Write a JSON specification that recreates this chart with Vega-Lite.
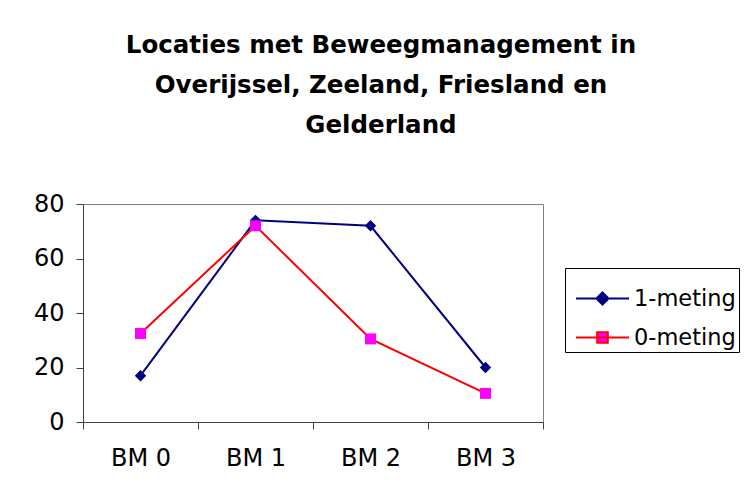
{
  "$schema": "https://vega.github.io/schema/vega-lite/v6.json",
  "width": 460,
  "height": 218,
  "autosize": "none",
  "padding": {"left": 83, "top": 204, "right": 201, "bottom": 77},
  "background": "white",
  "title": {
    "text": ["Locaties met Beweegmanagement in", "Overijssel, Zeeland, Friesland en", "Gelderland"],
    "font": "DejaVu Sans",
    "fontSize": 24.5,
    "fontWeight": "bold",
    "lineHeight": 40,
    "color": "black",
    "anchor": "middle",
    "dx": 68,
    "offset": 54
  },
  "config": {
    "view": {"stroke": "#808080", "strokeWidth": 1},
    "axis": {
      "labelFont": "DejaVu Sans",
      "labelFontSize": 24,
      "labelColor": "black",
      "domainColor": "#404040",
      "tickColor": "#404040",
      "grid": false,
      "title": null
    }
  },
  "data": {
    "values": [
      {"series": "1-meting", "bm": "BM 0", "value": 17},
      {"series": "1-meting", "bm": "BM 1", "value": 74},
      {"series": "1-meting", "bm": "BM 2", "value": 72},
      {"series": "1-meting", "bm": "BM 3", "value": 20},
      {"series": "0-meting", "bm": "BM 0", "value": 32.5},
      {"series": "0-meting", "bm": "BM 1", "value": 72},
      {"series": "0-meting", "bm": "BM 2", "value": 30.5},
      {"series": "0-meting", "bm": "BM 3", "value": 10.5}
    ]
  },
  "encoding": {
    "x": {
      "field": "bm",
      "type": "ordinal",
      "scale": {"type": "band", "paddingInner": 0, "paddingOuter": 0},
      "axis": {"labelAngle": 0, "tickBand": "extent", "tickSize": 7, "labelPadding": 17}
    },
    "y": {
      "field": "value",
      "type": "quantitative",
      "scale": {"domain": [0, 80]},
      "axis": {"values": [0, 20, 40, 60, 80], "tickSize": 7, "labelPadding": 12}
    }
  },
  "layer": [
    {
      "mark": {"type": "line", "strokeWidth": 2},
      "encoding": {
        "color": {
          "field": "series",
          "type": "nominal",
          "scale": {"domain": ["1-meting", "0-meting"], "range": ["#000080", "#FF0000"]},
          "legend": {
            "title": null,
            "orient": "none",
            "legendX": 482,
            "legendY": 64,
            "strokeColor": "black",
            "fillColor": "white",
            "padding": 3,
            "labelFont": "DejaVu Sans",
            "labelFontSize": 22.5,
            "labelColor": "black",
            "labelOffset": 4,
            "symbolOffset": 7,
            "rowPadding": -1,
            "symbolType": "M-1,0L1,0M0,-0.23L0.23,0L0,0.23L-0.23,0Z",
            "symbolSize": 400,
            "symbolStrokeWidth": 2,
            "encode": {
              "symbols": {
                "update": {
                  "shape": {"signal": "datum.value === '1-meting' ? 'M-1,0L1,0M0,-0.23L0.23,0L0,0.23L-0.23,0Z' : 'M-1,0L1,0M-0.2,-0.2L0.2,-0.2L0.2,0.2L-0.2,0.2Z'"},
                  "fill": {"signal": "datum.value === '1-meting' ? '#000080' : '#FF00FF'"},
                  "size": {"value": 2809},
                  "opacity": {"value": 1},
                  "fillOpacity": {"value": 1}
                }
              }
            }
          }
        }
      }
    },
    {
      "transform": [{"filter": "datum.series === '1-meting'"}],
      "mark": {"type": "point", "shape": "diamond", "filled": true, "opacity": 1, "size": 130, "color": "#000080"}
    },
    {
      "transform": [{"filter": "datum.series === '0-meting'"}],
      "mark": {"type": "point", "shape": "square", "filled": true, "opacity": 1, "size": 121, "color": "#FF00FF"}
    }
  ]
}
